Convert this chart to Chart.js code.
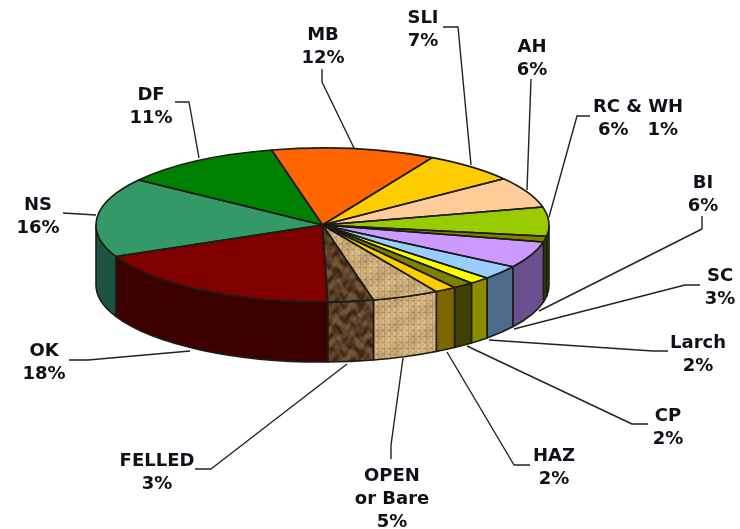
<!DOCTYPE html>
<html>
<head>
<meta charset="utf-8">
<script src="https://cdn.jsdelivr.net/npm/chart.js@4"></script>
<style>html,body{margin:0;padding:0;background:#fff}canvas{display:block}</style>
</head>
<body>
<canvas id="c" width="740" height="529"></canvas>
<script>
const categories = ["MB","SLI","AH","RC","WH","BI","SC","Larch","CP","HAZ","OPEN or Bare","FELLED","OK","NS","DF"];
const shares = [11.5,6.6,6.4,6.0,1.2,5.5,2.9,1.5,1.5,1.5,4.7,3.2,18.4,16.4,11.3];
const topColours = ["#ff6600","#ffcc00","#ffcc99","#99cc00","#808000","#cc99ff","#99ccff","#ffff00","#808000","#ffcc00","burlap","bark","#800000","#339966","#008000"];
const wallColours = ["#803300","#806600","#806650","#4d6600","#404000","#6b4f8f","#4d6b8a","#8c8c00","#404000","#806600","burlap","bark","#3d0000","#1c5440","#004000"];
const labelText = [["MB","12%"],["SLI","7%"],["AH","6%"],["RC & WH","6%   1%"],["BI","6%"],["SC","3%"],["Larch","2%"],["CP","2%"],["HAZ","2%"],["OPEN","or Bare","5%"],["FELLED","3%"],["OK","18%"],["NS","16%"],["DF","11%"]];
const labelAnchor = [[323,35],[423,18],[532,47],[638,107],[703,183],[720,276],[698,343],[668,416],[554,456],[392,476],[157,461],[44,351],[38,205],[151,95]];
const leaderPaths = [
  [[322,69],[322,82],[354,148]],
  [[443,27],[458,27],[471,165]],
  [[531,79],[527,190]],
  [[590,116],[577,116],[549,217]],
  [[702,216],[702,229],[539,311]],
  [[700,285],[685,285],[514,329]],
  [[668,351],[653,351],[489,340]],
  [[648,424],[632,424],[467,346]],
  [[530,465],[514,465],[447,352]],
  [[391,459],[391,445],[403,358]],
  [[195,469],[211,469],[347,364]],
  [[69,360],[88,360],[190,351]],
  [[63,213],[96,215]],
  [[175,102],[189,102],[199,158]]
];
const TOP_Y = 225, FLAT = 77 / 226.5, DEPTH = 60, LINE_GAP = 23;

function tile(size, shade) {
  const t = document.createElement('canvas');
  t.width = t.height = size;
  const g = t.getContext('2d');
  const im = g.createImageData(size, size);
  for (let y = 0; y < size; y++) for (let x = 0; x < size; x++) {
    const [r, gg, b] = shade(x, y, size);
    const i = (y * size + x) * 4;
    im.data[i] = r; im.data[i + 1] = gg; im.data[i + 2] = b; im.data[i + 3] = 255;
  }
  g.putImageData(im, 0, 0);
  return t;
}
const TAU = Math.PI * 2;
const burlapTile = tile(48, (x, y, s) => {
  const weave = Math.sin(TAU * x / 6) * Math.cos(TAU * y / 6);
  const lines = (x % 6 === 0 ? -18 : 0) + (y % 6 === 0 ? -18 : 0);
  const drift = 7 * Math.sin(TAU * (x + 2 * y) / s) + 5 * Math.sin(TAU * 3 * x / s);
  const v = 14 * weave + lines + drift;
  return [206 + v, 174 + v, 124 + v * 0.9];
});
const barkTile = tile(48, (x, y, s) => {
  const v = 17 * Math.sin(TAU * 2 * x / s + 2.4 * Math.sin(TAU * 2 * y / s)) +
            15 * Math.sin(TAU * 3 * y / s + 2.2 * Math.cos(TAU * 3 * x / s)) +
            6 * Math.sin(TAU * 8 * x / s) * Math.sin(TAU * 7 * y / s);
  return [90 + v, 63 + v * 0.85, 40 + v * 0.6];
});
const cv = document.getElementById('c');
const ctx0 = cv.getContext('2d');
function pattern(t, flatten) {
  const p = ctx0.createPattern(t, 'repeat');
  if (flatten) p.setTransform(new DOMMatrix().scale(1, 1 / FLAT));
  return p;
}
function paint(name, flatten) {
  if (name === 'burlap') return pattern(burlapTile, flatten);
  if (name === 'bark') return pattern(barkTile, flatten);
  return name;
}
const pie3d = {
  id: 'pie3d',
  beforeDatasetsDraw(chart) {
    const ctx = chart.ctx;
    const arcs = chart.getDatasetMeta(0).data;
    ctx.save();
    ctx.lineWidth = 1.6;
    ctx.strokeStyle = '#1c1c14';
    ctx.lineJoin = 'round';
    arcs.forEach((el, i) => {
      const a1 = Math.max(el.startAngle, 0), a2 = Math.min(el.endAngle, Math.PI);
      if (a2 <= a1) return;
      const rx = el.outerRadius, ry = rx * FLAT;
      ctx.beginPath();
      ctx.ellipse(el.x, TOP_Y, rx, ry, 0, a1, a2);
      ctx.ellipse(el.x, TOP_Y + DEPTH, rx, ry, 0, a2, a1, true);
      ctx.closePath();
      ctx.fillStyle = paint(wallColours[i], false);
      ctx.fill();
      ctx.stroke();
    });
    ctx.restore();
    const el = arcs[0];
    ctx.save();
    ctx.translate(el.x, TOP_Y);
    ctx.scale(1, FLAT);
    ctx.translate(-el.x, -el.y);
  },
  afterDatasetsDraw(chart) {
    const ctx = chart.ctx;
    ctx.restore();
    const arcs = chart.getDatasetMeta(0).data;
    ctx.save();
    ctx.lineWidth = 1.6;
    ctx.strokeStyle = '#1c1c14';
    ctx.lineJoin = 'round';
    arcs.forEach(el => {
      const rx = el.outerRadius, ry = rx * FLAT;
      ctx.beginPath();
      ctx.moveTo(el.x, TOP_Y);
      ctx.ellipse(el.x, TOP_Y, rx, ry, 0, el.startAngle, el.endAngle);
      ctx.closePath();
      ctx.stroke();
    });
    ctx.strokeStyle = '#222';
    ctx.lineWidth = 1.4;
    leaderPaths.forEach(path => {
      ctx.beginPath();
      path.forEach(([x, y], j) => j ? ctx.lineTo(x, y) : ctx.moveTo(x, y));
      ctx.stroke();
    });
    ctx.fillStyle = '#101018';
    ctx.font = 'bold 18px "DejaVu Sans", Verdana, sans-serif';
    ctx.textAlign = 'center';
    ctx.textBaseline = 'middle';
    labelText.forEach((lines, i) => {
      lines.forEach((t, j) => ctx.fillText(t, labelAnchor[i][0], labelAnchor[i][1] + j * LINE_GAP));
    });
    ctx.restore();
  }
};
new Chart(cv, {
  type: 'pie',
  data: {
    labels: categories,
    datasets: [{
      data: shares,
      backgroundColor: topColours.map(n => paint(n, true)),
      borderWidth: 0,
      clip: false
    }]
  },
  options: {
    responsive: false,
    animation: false,
    rotation: -13,
    layout: { padding: { left: 96, right: 191, top: 38, bottom: 38 } },
    plugins: { legend: { display: false }, tooltip: { enabled: false } }
  },
  plugins: [pie3d]
});
</script>
</body>
</html>
